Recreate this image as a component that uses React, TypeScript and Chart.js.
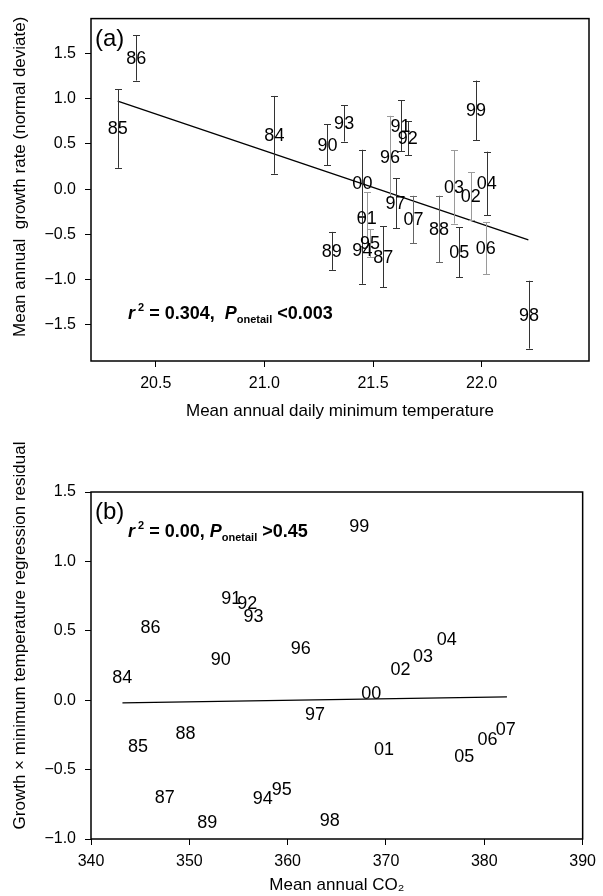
import React, { useEffect, useRef } from 'react';
import { Chart, registerables } from 'chart.js';

Chart.register(...registerables);

const FONT = "Arial, 'Liberation Sans', Helvetica, sans-serif";
Chart.defaults.font.family = FONT;
Chart.defaults.color = '#000';

// ---------- data ----------
const years = ['84', '85', '86', '87', '88', '89', '90', '91', '92', '93', '94', '95',
  '96', '97', '98', '99', '00', '01', '02', '03', '04', '05', '06', '07'];

// Panel (a): growth vs. mean annual daily minimum temperature
const minTemp = [21.046, 20.325, 20.41, 21.547, 21.804, 21.31, 21.29, 21.627, 21.66, 21.367, 21.451, 21.486,
  21.578, 21.604, 22.218, 21.974, 21.451, 21.471, 21.95, 21.873, 22.023, 21.897, 22.019, 21.686];
const growthRate = [0.60, 0.67, 1.45, -0.748, -0.44, -0.683, 0.49, 0.70, 0.563, 0.726, -0.677, -0.598,
  0.36, -0.157, -1.388, 0.87, 0.07, -0.315, -0.079, 0.025, 0.062, -0.697, -0.653, -0.336];
const growthErr = [0.43, 0.435, 0.25, 0.338, 0.367, 0.21, 0.225, 0.28, 0.19, 0.2, 0.37, 0.155,
  0.45, 0.278, 0.375, 0.33, 0.365, 0.28, 0.265, 0.406, 0.352, 0.276, 0.287, 0.262];
const errShade = ['dark', 'dark', 'dark', 'dark', 'mid', 'dark', 'dark', 'dark', 'dark', 'dark', 'dark', 'light',
  'light', 'dark', 'dark', 'dark', 'dark', 'light', 'light', 'light', 'dark', 'dark', 'light', 'mid'];
const fitTempX = [20.325, 22.215];
const fitGrowthY = [0.973, -0.561];

// Panel (b): residual vs. mean annual CO2
const co2 = [343.19, 344.77, 346.05, 347.49, 349.61, 351.83, 353.2, 354.27, 355.89, 356.53, 357.47, 359.39,
  361.33, 362.78, 364.29, 367.28, 368.49, 369.8, 371.48, 373.77, 376.19, 377.96, 380.32, 382.17];
const residual = [0.164, -0.33, 0.53, -0.698, -0.234, -0.881, 0.298, 0.739, 0.698, 0.607, -0.703, -0.638,
  0.378, -0.101, -0.86, 1.252, 0.055, -0.349, 0.222, 0.32, 0.441, -0.405, -0.277, -0.205];
const fitCo2X = [343.2, 382.3];
const fitResidY = [-0.019, 0.024];

const xTicksA = [20.5, 21.0, 21.5, 22.0];
const yTicksA = [-1.5, -1.0, -0.5, 0.0, 0.5, 1.0, 1.5];
const xTicksB = [340, 350, 360, 370, 380, 390];
const yTicksB = [-1.0, -0.5, 0.0, 0.5, 1.0, 1.5];

const xTitleA = 'Mean annual daily minimum temperature';
const yTitleA = 'Mean annual  growth rate (normal deviate)';
const xTitleB = 'Mean annual CO\u2082';
const yTitleB = 'Growth \u00d7 minimum temperature regression residual';

const SHADES: Record<string, string> = { dark: '#333333', mid: '#666666', light: '#9a9a9a' };

type Run = { t: string; size: number; italic?: boolean; dy?: number };

const statsA: Run[] = [
  { t: 'r', size: 18, italic: true },
  { t: ' 2', size: 11, dy: -8 },
  { t: ' = 0.304,  ', size: 18 },
  { t: 'P', size: 18, italic: true },
  { t: 'onetail', size: 11, dy: 4 },
  { t: ' <0.003', size: 18 },
];
const statsB: Run[] = [
  { t: 'r', size: 18, italic: true },
  { t: ' 2', size: 11, dy: -8 },
  { t: ' = 0.00, ', size: 18 },
  { t: 'P', size: 18, italic: true },
  { t: 'onetail', size: 11, dy: 4 },
  { t: ' >0.45', size: 18 },
];

const fmtTick = (v: number) => (v < 0 ? '\u2212' : '') + Math.abs(v).toFixed(1);

function drawRuns(ctx: CanvasRenderingContext2D, x: number, y: number, runs: Run[]) {
  let cx = x;
  ctx.textAlign = 'left';
  ctx.textBaseline = 'alphabetic';
  for (const r of runs) {
    ctx.font = `${r.italic ? 'italic ' : ''}bold ${r.size}px ${FONT}`;
    ctx.fillText(r.t, cx, y + (r.dy || 0));
    cx += ctx.measureText(r.t).width;
  }
}

const decorPlugin = {
  id: 'decor',
  afterDatasetsDraw(chart: any, _args: any, opts: any) {
    const { ctx, chartArea, scales } = chart;
    const xs = scales.x;
    const ys = scales.y;
    ctx.save();
    // error bars
    if (opts.err) {
      const { xv, yv, ev, shades } = opts.err;
      xv.forEach((xval: number, i: number) => {
        const px = Math.round(xs.getPixelForValue(xval)) + 0.5;
        const top = ys.getPixelForValue(yv[i] + ev[i]);
        const bot = ys.getPixelForValue(yv[i] - ev[i]);
        ctx.strokeStyle = SHADES[shades[i]];
        ctx.lineWidth = 1;
        ctx.beginPath();
        ctx.moveTo(px, top);
        ctx.lineTo(px, bot);
        ctx.moveTo(px - 3.5, Math.round(top) + 0.5);
        ctx.lineTo(px + 3.5, Math.round(top) + 0.5);
        ctx.moveTo(px - 3.5, Math.round(bot) + 0.5);
        ctx.lineTo(px + 3.5, Math.round(bot) + 0.5);
        ctx.stroke();
      });
    }
    // point labels
    if (opts.labels) {
      const { xv, yv, text } = opts.labels;
      ctx.fillStyle = '#000';
      ctx.font = `18px ${FONT}`;
      ctx.textAlign = 'center';
      ctx.textBaseline = 'middle';
      xv.forEach((xval: number, i: number) => {
        ctx.fillText(text[i], xs.getPixelForValue(xval), ys.getPixelForValue(yv[i]) + 1);
      });
    }
    // panel letter
    ctx.fillStyle = '#000';
    ctx.font = `24px ${FONT}`;
    ctx.textAlign = 'left';
    ctx.textBaseline = 'alphabetic';
    ctx.fillText(opts.letter, chartArea.left + 4, chartArea.top + 27);
    // stats text
    const sy = opts.statsFromBottom ? chartArea.bottom - opts.statsOffset : chartArea.top + opts.statsOffset;
    drawRuns(ctx, chartArea.left + 37, sy, opts.stats);
    // y title
    ctx.font = `17px ${FONT}`;
    ctx.textAlign = 'center';
    ctx.textBaseline = 'middle';
    ctx.translate(opts.yTitleX, (chartArea.top + chartArea.bottom) / 2 + opts.yTitleShift);
    ctx.rotate(-Math.PI / 2);
    ctx.fillText(opts.yTitle, 0, 0);
    ctx.restore();
    // box
    ctx.save();
    ctx.strokeStyle = '#000';
    ctx.lineWidth = 1.5;
    ctx.strokeRect(chartArea.left, chartArea.top, chartArea.right - chartArea.left, chartArea.bottom - chartArea.top);
    ctx.restore();
  },
};

const axisGrid = { display: true, drawOnChartArea: false, drawTicks: true, tickLength: 6, color: '#000', lineWidth: 1 };

function makeConfig(p: {
  xv: number[]; yv: number[]; ev?: number[]; fitX: number[]; fitY: number[];
  xMin: number; xMax: number; yMin: number; yMax: number;
  xTicks: number[]; yTicks: number[]; xFmt: (v: number) => string;
  xTitle: string; xTitlePad: number; padTop: number; xHeight: number;
  decor: any;
}) {
  return {
    type: 'scatter' as const,
    data: {
      datasets: [
        {
          data: p.xv.map((x, i) => ({ x, y: p.yv[i] })),
          pointRadius: 0,
          showLine: false,
        },
        {
          data: p.fitX.map((x, i) => ({ x, y: p.fitY[i] })),
          showLine: true,
          pointRadius: 0,
          borderColor: '#000',
          borderWidth: 1.3,
          fill: false,
        },
      ],
    },
    options: {
      animation: false,
      responsive: false,
      devicePixelRatio: 1,
      layout: { padding: { left: 0, right: 14, top: p.padTop, bottom: 0 } },
      plugins: {
        legend: { display: false },
        tooltip: { enabled: false },
        decor: p.decor,
      },
      scales: {
        x: {
          type: 'linear',
          min: p.xMin,
          max: p.xMax,
          afterBuildTicks: (s: any) => { s.ticks = p.xTicks.map((v) => ({ value: v })); },
          afterFit: (s: any) => { s.height = p.xHeight; },
          grid: axisGrid,
          border: { display: false },
          ticks: { font: { size: 16 }, padding: 7, autoSkip: false, maxRotation: 0, callback: (v: any) => p.xFmt(Number(v)) },
          title: { display: true, text: p.xTitle, font: { size: 17, lineHeight: 1.2 }, padding: { top: 0, bottom: p.xTitlePad } },
        },
        y: {
          type: 'linear',
          min: p.yMin,
          max: p.yMax,
          afterBuildTicks: (s: any) => { s.ticks = p.yTicks.map((v) => ({ value: v })); },
          afterFit: (s: any) => { s.width = 91; },
          grid: axisGrid,
          border: { display: false },
          ticks: { font: { size: 16 }, padding: 9, autoSkip: false, callback: (v: any) => fmtTick(Number(v)) },
        },
      },
    },
    plugins: [decorPlugin],
  };
}

function ChartCanvas({ config, width, height, top }: { config: any; width: number; height: number; top: number }) {
  const ref = useRef<HTMLCanvasElement | null>(null);
  useEffect(() => {
    if (!ref.current) return;
    const chart = new Chart(ref.current, config);
    return () => chart.destroy();
  }, [config]);
  return (
    <canvas
      ref={ref}
      width={width}
      height={height}
      style={{ position: 'absolute', left: 0, top, width, height, display: 'block' }}
    />
  );
}

const configA = makeConfig({
  xv: minTemp, yv: growthRate, ev: growthErr, fitX: fitTempX, fitY: fitGrowthY,
  xMin: 20.202, xMax: 22.494, yMin: -1.9, yMax: 1.885,
  xTicks: xTicksA, yTicks: yTicksA, xFmt: (v) => v.toFixed(1),
  xTitle: xTitleA, xTitlePad: 18, padTop: 12, xHeight: 79,
  decor: {
    err: { xv: minTemp, yv: growthRate, ev: growthErr, shades: errShade },
    labels: { xv: minTemp, yv: growthRate, text: years },
    letter: '(a)',
    stats: statsA,
    statsFromBottom: true,
    statsOffset: 42,
    yTitle: yTitleA,
    yTitleX: 20,
    yTitleShift: -13,
  },
});

const configB = makeConfig({
  xv: co2, yv: residual, fitX: fitCo2X, fitY: fitResidY,
  xMin: 340, xMax: 390, yMin: -1.0, yMax: 1.5,
  xTicks: xTicksB, yTicks: yTicksB, xFmt: (v) => String(v),
  xTitle: xTitleB, xTitlePad: 0, padTop: 52, xHeight: 57,
  decor: {
    labels: { xv: co2, yv: residual, text: years },
    letter: '(b)',
    stats: statsB,
    statsFromBottom: false,
    statsOffset: 45,
    yTitle: yTitleB,
    yTitleX: 20,
    yTitleShift: -30,
  },
});

export default function App() {
  return (
    <div style={{ position: 'absolute', left: 0, top: 0, width: 603, height: 896, background: '#fff', overflow: 'hidden' }}>
      <ChartCanvas config={configA} width={603} height={440} top={0} />
      <ChartCanvas config={configB} width={603} height={456} top={440} />
    </div>
  );
}
